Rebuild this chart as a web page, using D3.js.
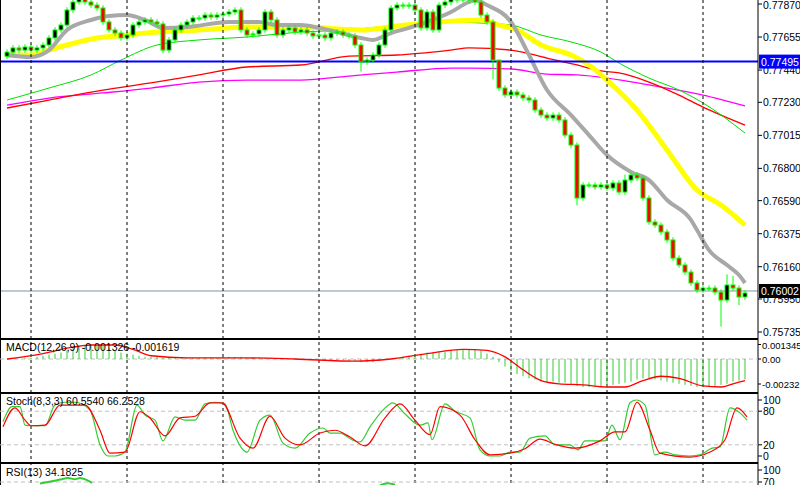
<!DOCTYPE html>
<html><head><meta charset="utf-8">
<script src="https://cdn.jsdelivr.net/npm/d3@7"></script>
<style>body{margin:0;background:#fff}svg{display:block}text{font-family:"Liberation Sans",Arial,sans-serif;font-size:10.5px}</style>
</head><body><svg id="c" width="800" height="485"></svg>
<script>
const firstOpen = 0.77530;
const closes = [.77557,.77584,.77570,.77590,.77570,.77584,.77603,.77649,.77701,.77733,
.77831,.77883,.77929,.77883,.77863,.77844,.77753,.77701,.77681,.77649,
.77668,.77733,.77753,.77766,.77753,.77740,.77570,.77636,.77701,.77733,
.77753,.77779,.77779,.77798,.77785,.77798,.77805,.77818,.77831,.77701,
.77668,.77675,.77701,.77818,.77766,.77668,.77701,.77714,.77688,.77701,
.77681,.77662,.77668,.77649,.77681,.77688,.77668,.77662,.77603,.77492,
.77505,.77538,.77603,.77701,.77844,.77863,.77857,.77863,.77831,.77714,
.77818,.77701,.77863,.77883,.77909,.77896,.77916,.77896,.77883,.77798,
.77753,.77505,.77323,.77278,.77297,.77278,.77258,.77245,.77180,.77147,
.77128,.77147,.77115,.77017,.76952,.76607,.76692,.76692,.76679,.76692,
.76672,.76705,.76646,.76724,.76757,.76737,.76607,.76451,.76431,.76386,
.76334,.76216,.76171,.76125,.76054,.76008,.76021,.76021,.75995,.75943,
.76041,.76021,.75963,.75989];
const wick = 0.00018;
const lowOverrides = [[59,0.77430],[81,0.77380],[95,0.76560],[119,0.75770],[122,0.75910]];
const highOverrides = [[82,0.77480],[103,0.76760],[120,0.76110],[121,0.76100]];

const maGray = [[0,.77538],[4,.77525],[7,.77570],[10,.77701],[14,.77766],[17,.77792],[20,.77798],[23,.77766],[26,.77714],[30,.77720],[37,.77753],[42,.77753],[45,.77733],[49,.77733],[52,.77714],[55,.77688],[59,.77649],[61,.77636],[64,.77681],[67,.77714],[70,.77753],[74,.77818],[77,.77883],[78,.77896],[80,.77863],[84,.77753],[87,.77538],[90,.77310],[94,.77147],[97,.77017],[100,.76887],[104,.76777],[107,.76724],[110,.76594],[114,.76464],[115,.76399],[117,.76268],[120,.76171],[122,.76106],[123,.76054]];
const maYellow = [[0,.77538],[4,.77538],[7,.77570],[10,.77603],[15,.77649],[20,.77668],[25,.77688],[32,.77701],[40,.77720],[49,.77720],[59,.77701],[65,.77727],[72,.77753],[79,.77766],[82,.77733],[85,.77701],[89,.77603],[94,.77538],[97,.77473],[100,.77375],[105,.77180],[110,.76920],[115,.76659],[119,.76561],[123,.76431]];
const maGreen = [[0,.77245],[7,.77323],[14,.77408],[19,.77505],[25,.77603],[32,.77636],[40,.77655],[49,.77688],[57,.77701],[65,.77733],[74,.77753],[79,.77746],[84,.77733],[89,.77668],[94,.77623],[99,.77557],[102,.77486],[107,.77388],[112,.77310],[116,.77226],[123,.77030]];
const maRed = [[0,.77193],[7,.77245],[16,.77310],[24,.77356],[32,.77408],[40,.77460],[49,.77473],[57,.77531],[65,.77538],[74,.77570],[77,.77584],[84,.77570],[90,.77518],[95,.77473],[99,.77434],[102,.77421],[107,.77362],[112,.77277],[116,.77199],[123,.77082]];
const maMagenta = [[0,.77212],[7,.77258],[16,.77291],[24,.77323],[32,.77362],[40,.77375],[49,.77375],[57,.77401],[65,.77427],[74,.77453],[77,.77453],[84,.77447],[90,.77414],[95,.77408],[100,.77388],[107,.77343],[116,.77277],[123,.77206]];
const levelBlue = 0.77495, levelLast = 0.76002;
const priceTicks = ["0.77870","0.77655","0.77440","0.77230","0.77015","0.76800","0.76590","0.76375","0.76160","0.75950","0.75735"];

const macdHist = [0,0,0,1,1,2,3,4,5,6, 8,10,12,13,14,13,12,10,8,6, 5,4,3,2,2,2,1,1,1,1,
1,1,1,1,1,1,2,2,2,2, 1,1,1,1,1,1,0,0,0,0, 0,0,0,-1,-1,-1,-1,-2,-2,-3,
-3,-3,-2,-1,0,1,2,3,4,5, 6,6,7,7,8,8,9,9,9,8, 5,2,-3,-7,-11,-14,-16,-18,-19,-20,
-21,-21,-22,-22,-23,-25,-26,-26,-26,-25, -25,-24,-23,-22,-21,-19,-18,-18,-19,-20,
-21,-22,-23,-24,-25,-26,-26,-26,-25,-24, -23,-21,-20,-19];
const macdSignal = [[0,0],[6,.5],[10,1.0],[14,1.3],[18,1.3],[21,.9],[24,.3],[30,.1],[40,.1],[48,0],[58,-.2],[64,0],[70,.5],[76,.9],[80,.8],[83,.2],[86,-1.0],[89,-2.0],[92,-2.3],[96,-2.4],[100,-2.6],[103,-2.6],[106,-2.0],[109,-1.6],[112,-1.8],[116,-2.5],[119,-2.6],[121,-2.3],[123,-2.0]];
const macdTicks = [["0.001345",0.001345],["0.00",0],["-0.00232",-0.00232]];

const stochK = [[3,61],[12,88],[20,88],[25,55],[31,54],[45,54],[55,91],[65,96],[75,96],[90,82],[100,20],[108,0],[115,0],[125,7],[137,91],[145,73],[155,64],[163,27],[175,70],[185,64],[195,64],[205,93],[215,96],[225,93],[233,46],[247,7],[260,64],[270,73],[283,23],[295,14],[310,41],[323,50],[330,41],[340,41],[352,29],[360,25],[370,52],[383,82],[393,95],[405,75],[420,55],[428,59],[432,29],[445,93],[455,80],[470,68],[480,11],[490,0],[500,0],[510,7],[520,7],[530,32],[545,36],[555,20],[570,20],[578,11],[585,27],[595,27],[605,27],[612,55],[620,29],[630,95],[636,100],[645,91],[655,2],[665,7],[675,2],[690,0],[700,2],[712,14],[720,16],[730,86],[740,77],[747,64]];
const stochD = [[3,52],[15,86],[25,64],[31,54],[45,55],[60,91],[85,91],[100,46],[110,5],[125,7],[140,79],[150,68],[165,36],[180,68],[195,71],[210,95],[222,95],[240,32],[253,14],[270,71],[285,32],[300,20],[320,41],[335,46],[350,34],[365,18],[385,68],[400,93],[415,64],[430,38],[440,88],[460,73],[475,29],[490,2],[510,5],[525,13],[540,30],[555,21],[575,14],[600,27],[615,43],[625,43],[637,96],[650,46],[660,5],[690,-2],[710,7],[725,29],[737,86],[747,70]];
const stochLevels = [["100",100],["80",80],["20",20],["0",0]];
const rsiLine = [[40,66],[52,72],[60,76],[68,80],[75,77],[80,80],[86,76],[92,68],[380,62],[388,67],[395,63]];
const rsiLevels = [["100",100],["70",70]];
const gridX = [31,127,223,319,415,511,607,703];

const svg = d3.select("#c");
const n = closes.length;
const x = d3.scaleLinear().domain([0,n-1]).range([7,745]);
const y = d3.scaleLinear().domain([0.77896,0.75696]).range([0,338]);
const AX = 758;

svg.append("clipPath").attr("id","cm").append("rect").attr("x",0).attr("y",0).attr("width",AX).attr("height",338);
svg.append("clipPath").attr("id","cr").append("rect").attr("x",0).attr("y",465).attr("width",AX).attr("height",20);
const g = svg.append("g").attr("clip-path","url(#cm)");

gridX.forEach(gx=>svg.append("line").attr("x1",gx).attr("x2",gx).attr("y1",0).attr("y2",485).attr("stroke","#000").attr("stroke-dasharray","3,3"));

const ln = (sx,sy)=>d3.line().x(d=>sx(d[0])).y(d=>sy(d[1])).curve(d3.curveMonotoneX);
const maLine = ln(x,y);
[[maMagenta,"#ff00ff",1.3],[maRed,"#ff0000",1.3],[maGreen,"#00e000",1],[maYellow,"#ffff00",5],[maGray,"#a8a8a8",4]].forEach(([d,c,w])=>
  g.append("path").attr("d",maLine(d)).attr("fill","none").attr("stroke",c).attr("stroke-width",w));

g.append("line").attr("x1",0).attr("x2",AX).attr("y1",y(levelBlue)).attr("y2",y(levelBlue)).attr("stroke","#0000ff").attr("stroke-width",2);
g.append("line").attr("x1",0).attr("x2",AX).attr("y1",y(levelLast)).attr("y2",y(levelLast)).attr("stroke","#8090a0").attr("stroke-width",1);

const lowO = new Map(lowOverrides), highO = new Map(highOverrides);
closes.forEach((c,i)=>{
  const o = i===0?firstOpen:closes[i-1];
  const hi = highO.get(i) ?? Math.max(o,c)+wick, lo = lowO.get(i) ?? Math.min(o,c)-wick;
  const cx = x(i);
  g.append("line").attr("x1",cx).attr("x2",cx).attr("y1",y(hi)).attr("y2",y(lo)).attr("stroke","#00ff00");
  const top = y(Math.max(o,c)), h = Math.max(1,y(Math.min(o,c))-top);
  g.append("rect").attr("x",cx-2).attr("y",top).attr("width",4).attr("height",h)
    .attr("fill",c>=o?"#000":"#ff0000").attr("stroke","#00ff00").attr("stroke-width",1);
});

[[338,340],[392,394],[462,464]].forEach(([a,b])=>{
  svg.append("rect").attr("x",0).attr("y",a).attr("width",800).attr("height",b-a).attr("fill","#fff");
  svg.append("line").attr("x1",0).attr("x2",AX).attr("y1",a+0.5).attr("y2",a+0.5).attr("stroke","#000");
  svg.append("line").attr("x1",0).attr("x2",AX).attr("y1",b-0.5).attr("y2",b-0.5).attr("stroke","#000");
});
svg.append("line").attr("x1",AX).attr("x2",AX).attr("y1",0).attr("y2",485).attr("stroke","#000");
svg.append("line").attr("x1",0.5).attr("x2",0.5).attr("y1",0).attr("y2",485).attr("stroke","#000");

priceTicks.forEach(t=>{
  const yy = y(+t);
  svg.append("line").attr("x1",AX).attr("x2",AX+4).attr("y1",yy).attr("y2",yy).attr("stroke","#000");
  svg.append("text").attr("x",AX+5).attr("y",Math.max(yy+4,9)).text(t);
});
[[levelBlue,"#0000ff"],[levelLast,"#000"]].forEach(([v,c])=>{
  const yy = y(v);
  svg.append("rect").attr("x",AX+1).attr("y",yy-7).attr("width",41).attr("height",14).attr("fill",c);
  svg.append("text").attr("x",AX+3).attr("y",yy+4).attr("fill","#fff").text(v.toFixed(5));
});

const ym = d3.scaleLinear().domain([0,-0.00232]).range([359,384]);
svg.append("line").attr("x1",0).attr("x2",AX).attr("y1",359).attr("y2",359).attr("stroke","#c0c0c0").attr("stroke-dasharray","4,3");
macdHist.forEach((v,i)=>svg.append("line").attr("x1",x(i)).attr("x2",x(i)).attr("y1",ym(0)).attr("y2",ym(v*1e-4)).attr("stroke","#33cc33"));
svg.append("path").attr("d",d3.line().x(d=>x(d[0])).y(d=>ym(d[1]*1e-3)).curve(d3.curveMonotoneX)(macdSignal)).attr("fill","none").attr("stroke","#ff0000").attr("stroke-width",1.3);
macdTicks.forEach(([t,v])=>{svg.append("line").attr("x1",AX).attr("x2",AX+3).attr("y1",ym(v)).attr("y2",ym(v)).attr("stroke","#000");
  svg.append("text").attr("x",AX+4).attr("y",ym(v)+4).style("font-size","9.5px").text(t);});
svg.append("text").attr("x",6).attr("y",351).text("MACD(12,26,9) -0.001326 -0.001619");

const xs = d3.scaleLinear().domain([0,800]).range([0,800]);
const ys = d3.scaleLinear().domain([0,100]).range([456,400]);
[80,20].forEach(v=>svg.append("line").attr("x1",0).attr("x2",AX).attr("y1",ys(v)).attr("y2",ys(v)).attr("stroke","#c0c0c0").attr("stroke-dasharray","4,3"));
svg.append("path").attr("d",ln(xs,ys)(stochK)).attr("fill","none").attr("stroke","#33cc33").attr("stroke-width",1.2);
svg.append("path").attr("d",ln(xs,ys)(stochD)).attr("fill","none").attr("stroke","#ff0000").attr("stroke-width",1.2);
stochLevels.forEach(([t,v])=>{svg.append("line").attr("x1",AX).attr("x2",AX+4).attr("y1",ys(v)).attr("y2",ys(v)).attr("stroke","#000");
  svg.append("text").attr("x",AX+5).attr("y",ys(v)+4).text(t);});
svg.append("text").attr("x",6).attr("y",405).text("Stoch(8,3,3) 60.5540 66.2528");

const yr = d3.scaleLinear().domain([70,100]).range([482,470]);
svg.append("line").attr("x1",0).attr("x2",AX).attr("y1",yr(70)).attr("y2",yr(70)).attr("stroke","#c0c0c0").attr("stroke-dasharray","4,3");
svg.append("path").attr("clip-path","url(#cr)").attr("d",ln(xs,yr)(rsiLine.slice(0,8))).attr("fill","none").attr("stroke","#33cc33").attr("stroke-width",2);
svg.append("path").attr("clip-path","url(#cr)").attr("d",ln(xs,yr)(rsiLine.slice(8))).attr("fill","none").attr("stroke","#33cc33").attr("stroke-width",2);
rsiLevels.forEach(([t,v])=>{svg.append("line").attr("x1",AX).attr("x2",AX+4).attr("y1",yr(v)).attr("y2",yr(v)).attr("stroke","#000");
  svg.append("text").attr("x",AX+5).attr("y",yr(v)+4).text(t);});
svg.append("text").attr("x",6).attr("y",476).text("RSI(13) 34.1825");
</script></body></html>
